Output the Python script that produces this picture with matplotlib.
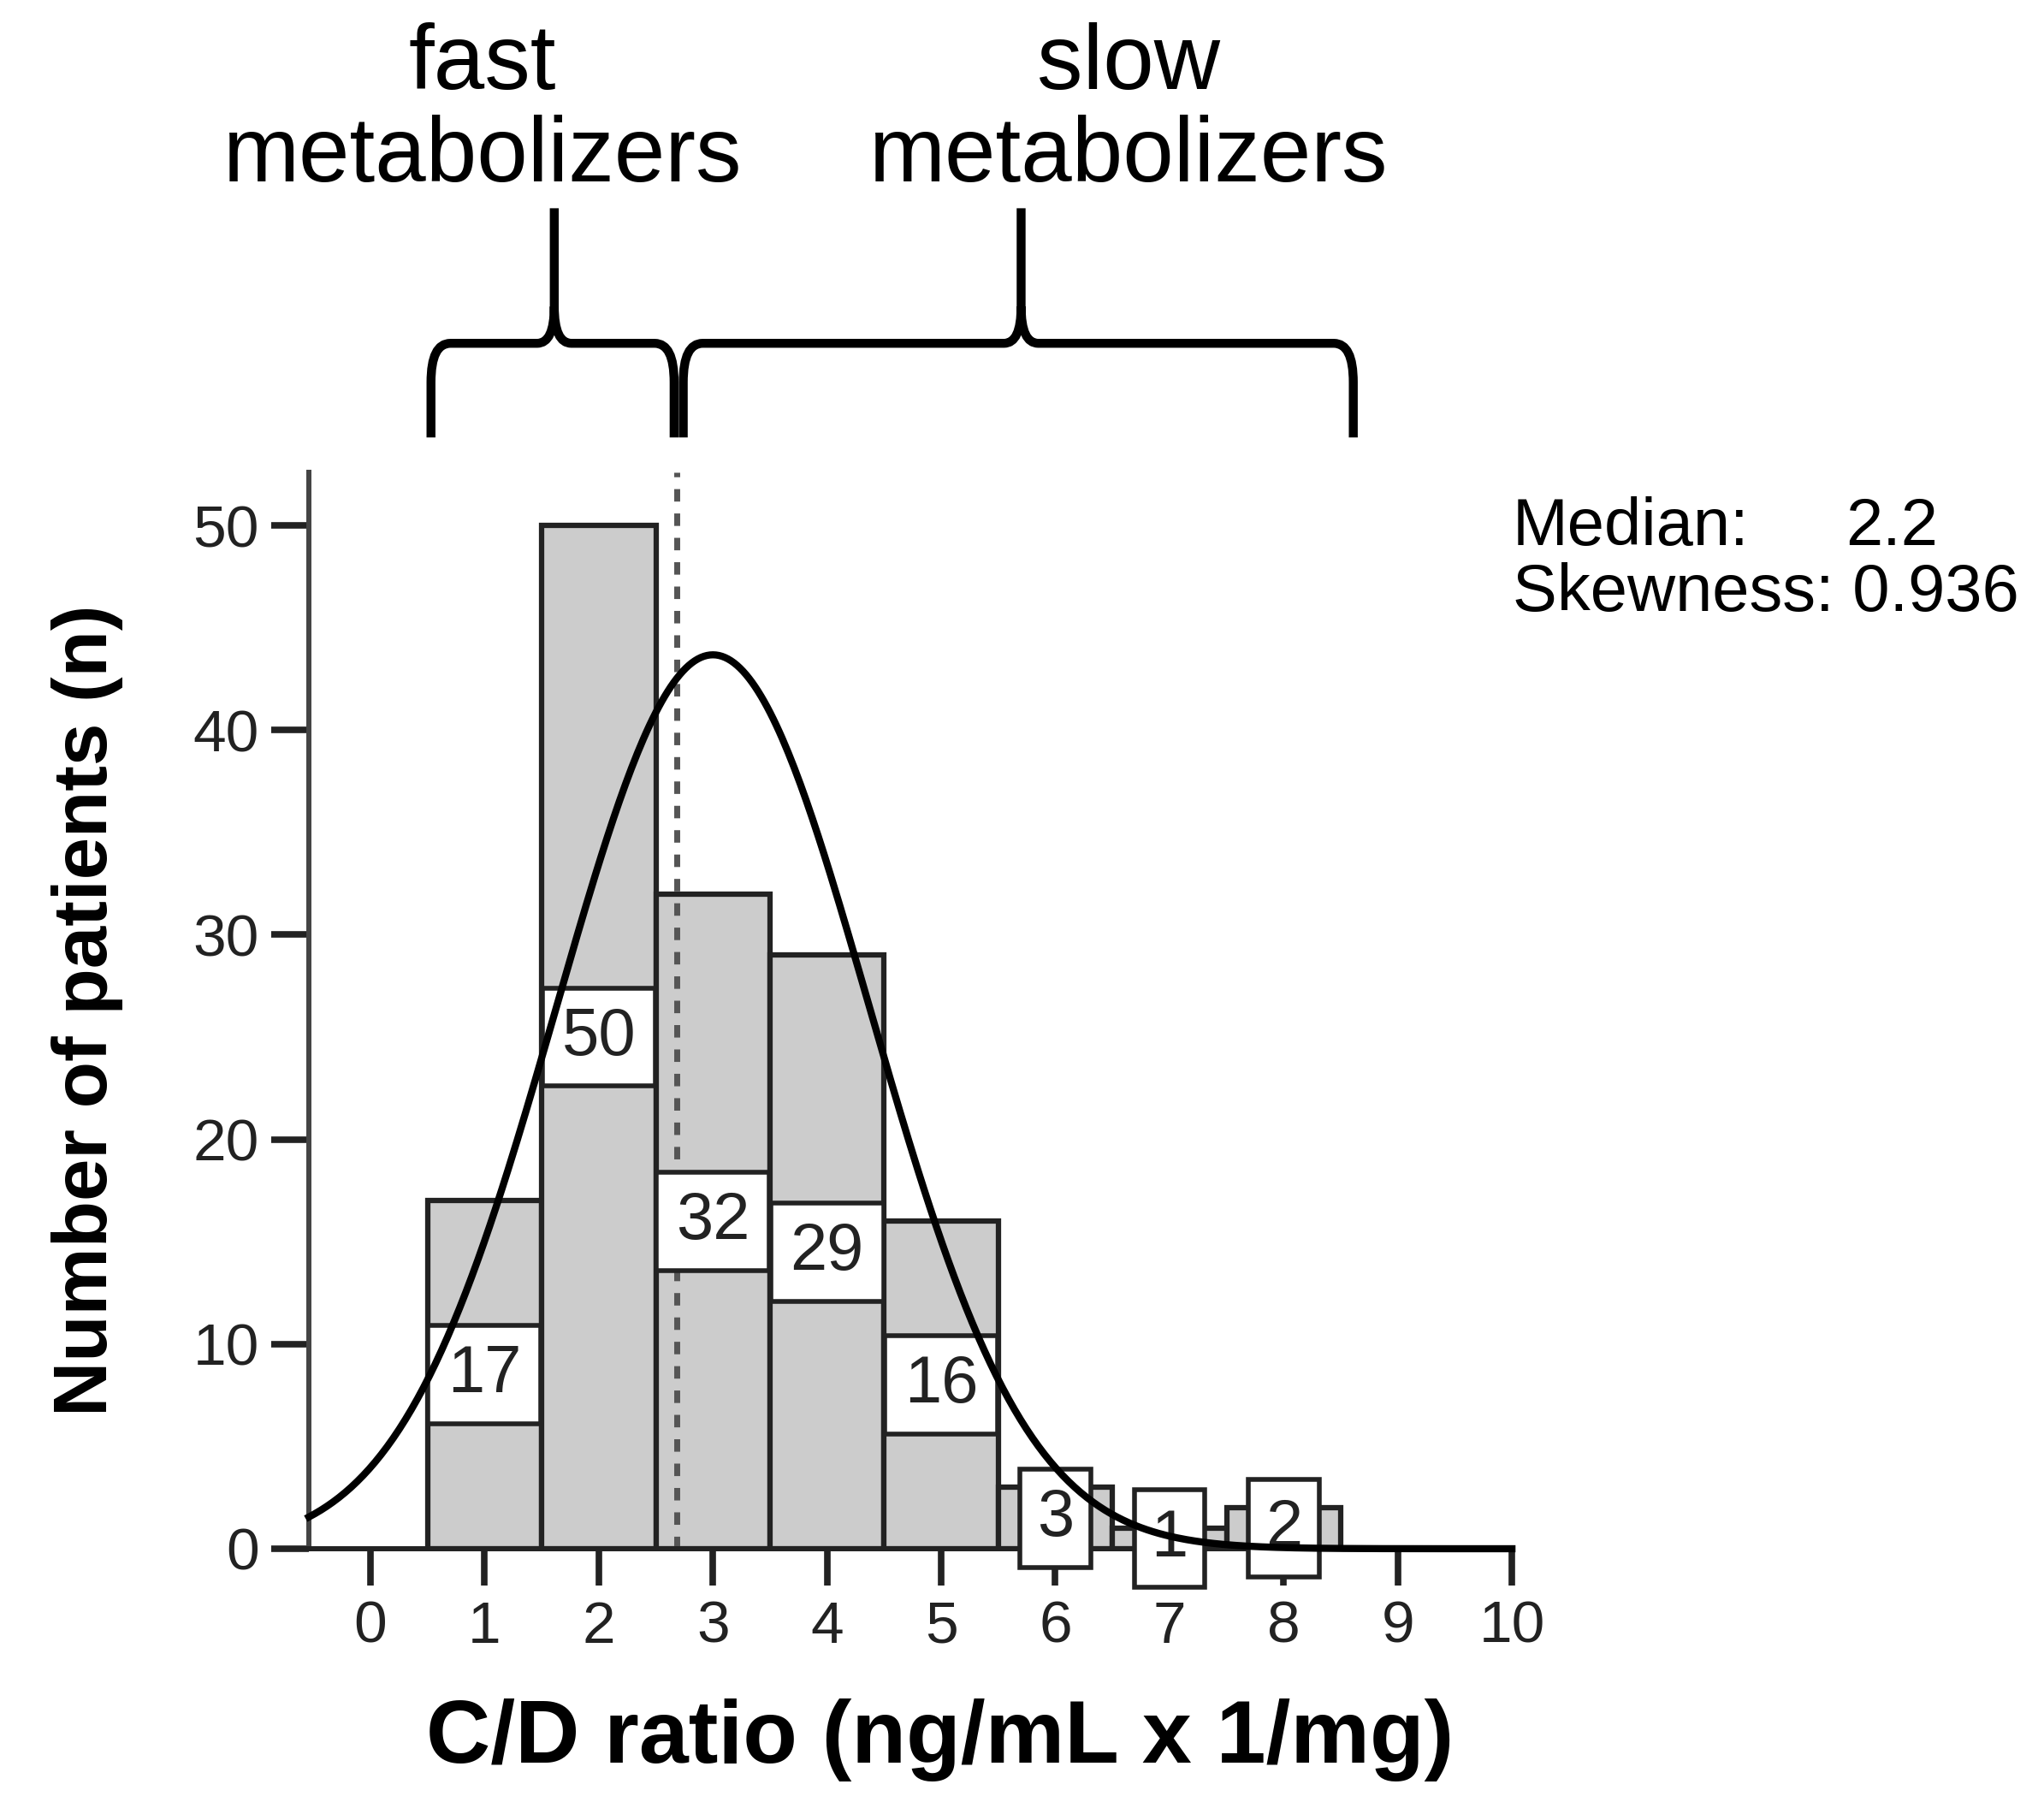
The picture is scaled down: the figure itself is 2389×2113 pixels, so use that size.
import numpy as np
import matplotlib
matplotlib.use('Agg')
from matplotlib import pyplot as plt
from matplotlib.path import Path
from matplotlib.patches import PathPatch, Rectangle

plt.rcParams['font.family'] = ['Liberation Sans', 'DejaVu Sans']

# histogram bins (C/D ratio, bin centre) and counts
bin_centres = [1, 2, 3, 4, 5, 6, 7, 8]
counts = [17, 50, 32, 29, 16, 3, 1, 2]
bin_width = 1.0

# fitted normal curve
curve_mean = 3.0
curve_sd = 1.37
n_total = 150

median_line_x = 2.68
median_text = '2.2'
skew_text = '0.936'

x_ticks = list(range(0, 11))
y_ticks = [0, 10, 20, 30, 40, 50]

# groups shown by the braces above the plot: (left, tip, right)
groups = [('fast', 0.53, 1.61, 2.66), ('slow', 2.74, 5.70, 8.61)]


def brace(ax, x0, xm, x1, yb, yh, ytip, dh=0.17, dv=1.9, dh2=0.15, dv2=1.8):
	verts = [(x0, yb), (x0, yh - dv), (x0, yh), (x0 + dh, yh),
			 (xm - dh2, yh), (xm, yh), (xm, yh + dv2), (xm, ytip),
			 (xm, yh + dv2), (xm, yh), (xm + dh2, yh),
			 (x1 - dh, yh), (x1, yh), (x1, yh - dv), (x1, yb)]
	codes = [Path.MOVETO, Path.LINETO, Path.CURVE3, Path.CURVE3,
			 Path.LINETO, Path.CURVE3, Path.CURVE3, Path.LINETO,
			 Path.MOVETO, Path.CURVE3, Path.CURVE3,
			 Path.LINETO, Path.CURVE3, Path.CURVE3, Path.LINETO]
	p = PathPatch(Path(verts, codes), fill=False, lw=7.5, color='black',
				  clip_on=False, capstyle='butt', joinstyle='round')
	ax.add_patch(p)


fig = plt.figure(figsize=(23.89, 21.13), dpi=100)
ax = fig.add_axes([0.1511, 0.1434, 0.5886, 0.5954])

ax.bar(bin_centres, counts, width=bin_width, color='#cccccc',
	   edgecolor='#222222', linewidth=4.5, zorder=2)

ax.axvline(median_line_x, color='#555555', lw=5, dashes=(2.1, 2.0), zorder=2.5)

# value boxes at half bar height
for xc, c in zip(bin_centres, counts):
	lab = str(c)
	w = min(1.0, 0.25 + 0.37 * len(lab))
	h = 4.8
	ax.add_patch(Rectangle((xc - w / 2, c / 2 - h / 2), w, h, facecolor='white',
						   edgecolor='#222222', lw=4, zorder=3, clip_on=False))
	ax.text(xc, c / 2, lab, ha='center', va='center', fontsize=56,
			color='#222222', zorder=4)

xs = np.linspace(-0.54, 10, 400)
ys = n_total * bin_width / (curve_sd * np.sqrt(2 * np.pi)) * np.exp(-0.5 * ((xs - curve_mean) / curve_sd) ** 2)
ax.plot(xs, ys, color='black', lw=6, zorder=5, clip_on=False)

ax.set_xlim(-0.54, 10)
ax.set_ylim(0, 52.6)
ax.set_xticks(x_ticks)
ax.set_yticks(y_ticks)
ax.spines['top'].set_visible(False)
ax.spines['right'].set_visible(False)
ax.spines['left'].set_linewidth(4.3)
ax.spines['bottom'].set_linewidth(4.3)
ax.spines['left'].set_color('#444444')
ax.spines['bottom'].set_color('#222222')
ax.tick_params(axis='x', length=31, width=5.5, pad=12, labelsize=50, colors='#222222')
ax.tick_params(axis='y', length=32, width=5.5, pad=10, labelsize=50, colors='#222222')

fig.text(0.0425, 0.441, 'Number of patients (n)', rotation=90, ha='center',
		 va='center', fontsize=64, fontweight='bold')
fig.text(0.46, 0.0375, 'C/D ratio (ng/mL x 1/mg)', ha='center', va='center',
		 fontsize=75, fontweight='bold')

# braces + group labels
for name, x0, xm, x1 in groups:
	brace(ax, x0, xm, x1, 54.3, 58.9, 65.5)
fig.text(0.236, 0.964, 'fast', ha='center', va='center', fontsize=77)
fig.text(0.236, 0.913, 'metabolizers', ha='center', va='center', fontsize=77)
fig.text(0.552, 0.964, 'slow', ha='center', va='center', fontsize=77)
fig.text(0.552, 0.913, 'metabolizers', ha='center', va='center', fontsize=77)

fig.text(0.740, 0.708, 'Median:', ha='left', va='center', fontsize=56)
fig.text(0.903, 0.708, median_text, ha='left', va='center', fontsize=56)
fig.text(0.740, 0.672, 'Skewness: ' + skew_text, ha='left', va='center', fontsize=56)

fig.savefig('out.png', dpi=100)
